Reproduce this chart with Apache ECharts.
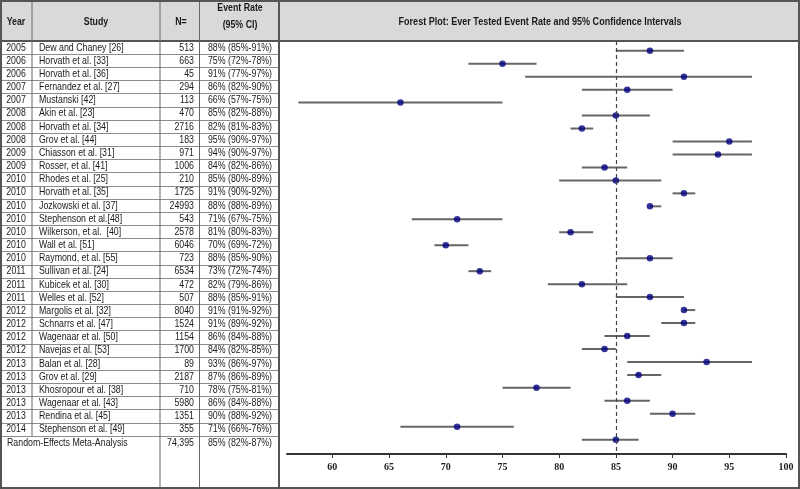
<!DOCTYPE html>
<html>
<head>
<meta charset="utf-8">
<script src="https://cdn.jsdelivr.net/npm/echarts@6/dist/echarts.min.js"></script>
<style>
  html, body { margin: 0; padding: 0; background: #fff; }
  #main { width: 800px; height: 489px; }
</style>
</head>
<body>
<div id="main"></div>
<script>
// studies, one entry per row
var years = [2005, 2006, 2006, 2007, 2007, 2008, 2008, 2008, 2009, 2009, 2010, 2010, 2010, 2010, 2010,
  2010, 2010, 2011, 2011, 2011, 2012, 2012, 2012, 2012, 2013, 2013, 2013, 2013, 2013, 2014];
var studies = ['Dew and Chaney [26]', 'Horvath et al. [33]', 'Horvath et al. [36]', 'Fernandez et al. [27]',
  'Mustanski [42]', 'Akin et al. [23]', 'Horvath et al. [34]', 'Grov et al. [44]', 'Chiasson et al. [31]',
  'Rosser, et al. [41]', 'Rhodes et al. [25]', 'Horvath et al. [35]', 'Jozkowski et al. [37]',
  'Stephenson et al.[48]', 'Wilkerson, et al.  [40]', 'Wall et al. [51]', 'Raymond, et al. [55]',
  'Sullivan et al. [24]', 'Kubicek et al. [30]', 'Welles et al. [52]', 'Margolis et al. [32]',
  'Schnarrs et al. [47]', 'Wagenaar et al. [50]', 'Navejas et al. [53]', 'Balan et al. [28]',
  'Grov et al. [29]', 'Khosropour et al. [38]', 'Wagenaar et al. [43]', 'Rendina et al. [45]',
  'Stephenson et al. [49]'];
var ns = ['513', '663', '45', '294', '113', '470', '2716', '183', '971', '1006', '210', '1725', '24993', '543',
  '2578', '6046', '723', '6534', '472', '507', '8040', '1524', '1154', '1700', '89', '2187', '710', '5980',
  '1351', '355'];
var rates = [88, 75, 91, 86, 66, 85, 82, 95, 94, 84, 85, 91, 88, 71, 81, 70, 88, 73, 82, 88, 91, 91, 86, 84,
  93, 87, 78, 86, 90, 71];
var lows = [85, 72, 77, 82, 57, 82, 81, 90, 90, 82, 80, 90, 88, 67, 80, 69, 85, 72, 79, 85, 91, 89, 84, 82,
  86, 86, 75, 84, 88, 66];
var highs = [91, 78, 97, 90, 75, 88, 83, 97, 97, 86, 89, 92, 89, 75, 83, 72, 90, 74, 86, 91, 92, 92, 88, 85,
  97, 89, 81, 88, 92, 76];

// pooled result
var summaryLabel = 'Random-Effects Meta-Analysis';
var summaryN = '74,395';
var summaryRate = 85, summaryLow = 82, summaryHigh = 87;

var xTicks = [60, 65, 70, 75, 80, 85, 90, 95, 100];

var textFont = "'Liberation Sans', Arial, sans-serif";
var textColor = '#1a1a1a';
var narrow = 0.8; // no narrow font installed, squeeze the regular one

// rows for plot (studies + summary)
var ciData = [], dotData = [];
for (var i = 0; i < rates.length; i++) {
  ciData.push([lows[i], highs[i], i]);
  dotData.push([rates[i], i]);
}
ciData.push([summaryLow, summaryHigh, rates.length]);
dotData.push([summaryRate, rates.length]);

// table cells: [x in table px, row]
var yearCells = [], studyCells = [], nCells = [], rateCells = [];
for (var i = 0; i < years.length; i++) {
  yearCells.push([16, i + 0.5, String(years[i])]);
  studyCells.push([39, i + 0.5, studies[i]]);
  nCells.push([194, i + 0.5, ns[i]]);
  rateCells.push([240, i + 0.5, rates[i] + '% (' + lows[i] + '%-' + highs[i] + '%)']);
}
var r = years.length + 0.5;
studyCells.push([7, r, summaryLabel]);
nCells.push([194, r, summaryN]);
rateCells.push([240, r, summaryRate + '% (' + summaryLow + '%-' + summaryHigh + '%)']);

function textSeries(cells, align) {
  return {
    type: 'custom', xAxisIndex: 1, yAxisIndex: 1, silent: true,
    data: cells,
    renderItem: function (params, api) {
      var p = api.coord([api.value(0), api.value(1)]);
      return {
        type: 'text', x: p[0], y: p[1], scaleX: narrow,
        style: {
          text: cells[params.dataIndex][2], align: align, verticalAlign: 'middle',
          fontFamily: textFont, fontSize: 11, fill: textColor
        }
      };
    },
    z: 5
  };
}

function vline(x, y1, y2, w, c) {
  return { type: 'line', shape: { x1: x, y1: y1, x2: x, y2: y2 }, style: { stroke: c, lineWidth: w }, z: 10 };
}
function headText(x, y, t, size, sx) {
  return {
    type: 'text', x: x, y: y, z: 11, scaleX: sx || narrow,
    style: { text: t, align: 'center', verticalAlign: 'middle', fontFamily: textFont, fontWeight: 'bold', fontSize: size || 11, fill: textColor }
  };
}

var chart = echarts.init(document.getElementById('main'));
var option = {
  animation: false,
  backgroundColor: '#fff',
  grid: [
    { left: 287, right: 14, top: 41, bottom: 35 },
    { left: 0, top: 41, width: 279, height: 395 }
  ],
  xAxis: [
    {
      type: 'value', gridIndex: 0, min: 56, max: 100,
      axisLine: { show: true, onZero: false, lineStyle: { color: '#333', width: 2 } },
      axisTick: { show: true, length: 4, customValues: xTicks, lineStyle: { color: '#333' } },
      axisLabel: {
        customValues: xTicks, margin: 8, fontFamily: "'Liberation Serif', serif",
        fontWeight: 'bold', fontSize: 10, color: '#222'
      },
      splitLine: { show: false }
    },
    { type: 'value', gridIndex: 1, min: 0, max: 279, show: false }
  ],
  yAxis: [
    { type: 'value', gridIndex: 0, inverse: true, min: -0.75, max: 31.1, show: false },
    {
      type: 'value', gridIndex: 1, inverse: true, min: 0, max: 30, interval: 1,
      axisLine: { show: false }, axisTick: { show: false }, axisLabel: { show: false },
      splitLine: { show: true, lineStyle: { color: '#8c8c8c', width: 1 } }
    }
  ],
  graphic: [
    { type: 'rect', shape: { x: 0, y: 0, width: 800, height: 41 }, style: { fill: '#d9d9d9' }, z: 9 },
    { type: 'line', shape: { x1: 0, y1: 41, x2: 800, y2: 41 }, style: { stroke: '#555', lineWidth: 2 }, z: 10 },
    vline(32, 0, 436, 1, '#666'),
    vline(160, 0, 488, 1, '#666'),
    vline(199.5, 0, 488, 1, '#666'),
    vline(279, 0, 488, 2, '#555'),
    { type: 'rect', shape: { x: 1, y: 1, width: 798, height: 487 }, style: { fill: null, stroke: '#555', lineWidth: 2 }, z: 12 },
    headText(16, 22, 'Year'),
    headText(96, 22, 'Study'),
    headText(181, 22, 'N='),
    headText(240, 8, 'Event Rate'),
    headText(240, 25, '(95% CI)'),
    headText(540, 22, 'Forest Plot: Ever Tested Event Rate and 95% Confidence Intervals', 10.5, 0.86)
  ],
  series: [
    {
      type: 'custom', xAxisIndex: 0, yAxisIndex: 0, silent: true,
      data: ciData,
      renderItem: function (params, api) {
        var a = api.coord([api.value(0), api.value(2)]);
        var b = api.coord([api.value(1), api.value(2)]);
        return { type: 'line', shape: { x1: a[0], y1: a[1], x2: b[0], y2: b[1] }, style: { stroke: '#666', lineWidth: 2 } };
      },
      z: 3
    },
    {
      type: 'scatter', xAxisIndex: 0, yAxisIndex: 0, silent: true,
      data: dotData, symbolSize: 6.5,
      itemStyle: { color: '#00007f' },
      z: 4,
      markLine: {
        silent: true, symbol: 'none', label: { show: false },
        lineStyle: { color: '#444', type: [4, 3], width: 1.2 },
        data: [{ xAxis: summaryRate }]
      }
    },
    textSeries(yearCells, 'center'),
    textSeries(studyCells, 'left'),
    textSeries(nCells, 'right'),
    textSeries(rateCells, 'center')
  ]
};
chart.setOption(option);
</script>
</body>
</html>
